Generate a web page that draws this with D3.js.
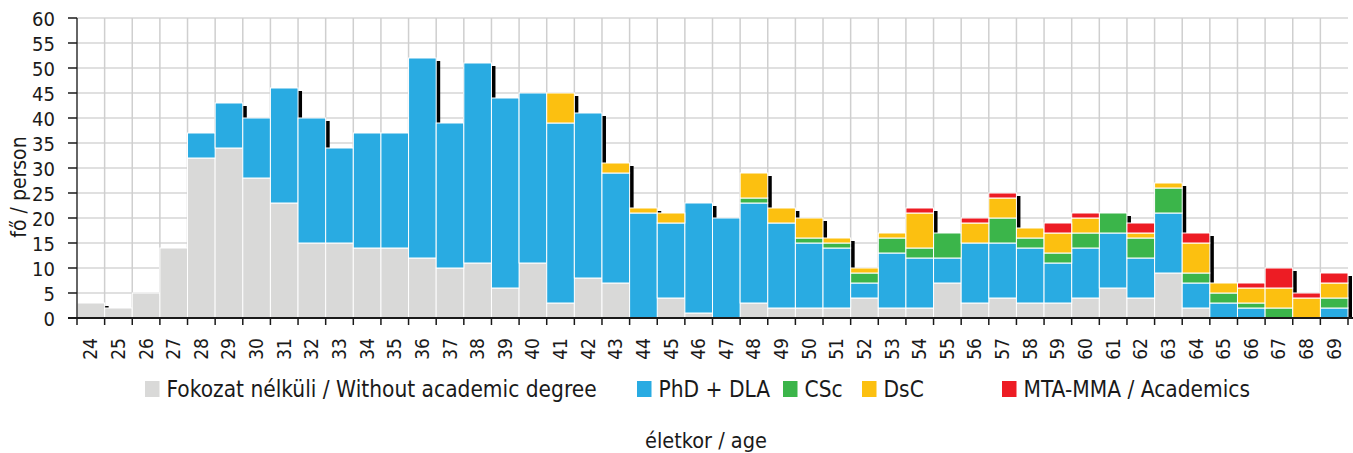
<!DOCTYPE html>
<html>
<head>
<meta charset="utf-8">
<script src="https://cdn.jsdelivr.net/npm/d3@7/dist/d3.min.js"></script>
<style>
  body { margin: 0; background: #fff; }
  text { font-family: "DejaVu Sans Condensed", "Liberation Sans Narrow", sans-serif; fill: #1a1a1a; }
</style>
</head>
<body>
<div id="chart"></div>
<script>
// ages on the x axis
const ages = [24,25,26,27,28,29,30,31,32,33,34,35,36,37,38,39,40,41,42,43,44,45,46,
  47,48,49,50,51,52,53,54,55,56,57,58,59,60,61,62,63,64,65,66,67,68,69];

// series, one value per age
const noDegree = [3,2,5,14,32,34,28,23,15,15,14,14,12,10,11,6,11,3,8,7,0,4,1,
  0,3,2,2,2,4,2,2,7,3,4,3,3,4,6,4,9,2,0,0,0,0,0];
const phdDla = [0,0,0,0,5,9,12,23,25,19,23,23,40,29,40,38,34,36,33,22,21,15,22,
  20,20,17,13,12,3,11,10,5,12,11,11,8,10,11,8,12,5,3,2,0,0,2];
const csc = [0,0,0,0,0,0,0,0,0,0,0,0,0,0,0,0,0,0,0,0,0,0,0,
  0,1,0,1,1,2,3,2,5,0,5,2,2,3,4,4,5,2,2,1,2,0,2];
const dsc = [0,0,0,0,0,0,0,0,0,0,0,0,0,0,0,0,0,6,0,2,1,2,0,
  0,5,3,4,1,1,1,7,0,4,4,2,4,3,0,1,1,6,2,3,4,4,3];
const mta = [0,0,0,0,0,0,0,0,0,0,0,0,0,0,0,0,0,0,0,0,0,0,0,
  0,0,0,0,0,0,0,1,0,1,1,0,2,1,0,2,0,2,0,1,4,1,2];

const yTicks = [0,5,10,15,20,25,30,35,40,45,50,55,60];

const seriesNames = ["Fokozat nélküli / Without academic degree", "PhD + DLA", "CSc", "DsC", "MTA-MMA / Academics"];
const colors = ["#d9d9d8", "#29abe2", "#3bb54a", "#fcc010", "#ed1c24"];

const W = 1353, H = 453;
const mLeft = 77, mRight = 1348, mTop = 18, mBottom = 318;

const rows = ages.map((a, i) => ({
  age: a, s0: noDegree[i], s1: phdDla[i], s2: csc[i], s3: dsc[i], s4: mta[i]
}));
const keys = ["s0","s1","s2","s3","s4"];
const stacked = d3.stack().keys(keys)(rows);

const x = d3.scaleBand().domain(ages).range([mLeft, mRight]).padding(0);
const y = d3.scaleLinear().domain([0, 60]).range([mBottom, mTop]);

const svg = d3.select("#chart").append("svg")
  .attr("width", W).attr("height", H);

svg.append("clipPath").attr("id", "plotclip")
  .append("rect").attr("x", mLeft).attr("y", 0).attr("width", W - mLeft).attr("height", mBottom);

// grid
const grid = svg.append("g");
grid.selectAll(".hg").data(yTicks).enter().append("line")
  .attr("x1", mLeft).attr("x2", mRight)
  .attr("y1", d => y(d)).attr("y2", d => y(d))
  .attr("stroke", "#d6d6d6").attr("stroke-width", 1.5);
grid.selectAll(".vg").data(ages.slice(1)).enter().append("line")
  .attr("x1", d => x(d)).attr("x2", d => x(d))
  .attr("y1", mTop).attr("y2", mBottom)
  .attr("stroke", "#cfcfcf").attr("stroke-width", 1.5);

// black drop shadows behind each bar
const totals = rows.map(r => r.s0 + r.s1 + r.s2 + r.s3 + r.s4);
svg.append("g").attr("clip-path", "url(#plotclip)")
  .selectAll("rect").data(ages).enter().append("rect")
  .attr("x", (d) => x(d) + 4)
  .attr("y", (d, i) => y(totals[i]) + 3)
  .attr("width", x.bandwidth())
  .attr("height", (d, i) => mBottom - y(totals[i]))
  .attr("fill", "#000");

// stacked bars
svg.append("g").selectAll("g").data(stacked).enter().append("g")
  .attr("fill", (d, i) => colors[i])
  .selectAll("rect").data(d => d.filter(p => p[1] > p[0])).enter().append("rect")
  .attr("x", d => x(d.data.age))
  .attr("y", d => y(d[1]))
  .attr("width", x.bandwidth())
  .attr("height", d => y(d[0]) - y(d[1]))
  .attr("stroke", "#fff").attr("stroke-width", 1);

// axes
svg.append("line").attr("x1", mLeft).attr("x2", mLeft).attr("y1", mTop).attr("y2", mBottom)
  .attr("stroke", "#333").attr("stroke-width", 1.5);
svg.append("line").attr("x1", mLeft - 9).attr("x2", W).attr("y1", mBottom).attr("y2", mBottom)
  .attr("stroke", "#1a1a1a").attr("stroke-width", 2);

svg.selectAll(".xt").data(ages.concat(["end"])).enter().append("line")
  .attr("x1", d => d === "end" ? mRight : x(d))
  .attr("x2", d => d === "end" ? mRight : x(d))
  .attr("y1", mBottom).attr("y2", mBottom + 7)
  .attr("stroke", "#1a1a1a").attr("stroke-width", 1.5);
svg.selectAll(".yt").data(yTicks).enter().append("line")
  .attr("x1", mLeft - 9).attr("x2", mLeft).attr("y1", d => y(d)).attr("y2", d => y(d))
  .attr("stroke", "#1a1a1a").attr("stroke-width", 1.5);

svg.selectAll(".ytl").data(yTicks).enter().append("text")
  .attr("x", 55).attr("y", d => y(d) + 7.5)
  .attr("text-anchor", "end").attr("font-size", 20)
  .text(d => d);

svg.selectAll(".xtl").data(ages).enter().append("text")
  .attr("transform", d => `translate(${x(d) + x.bandwidth() / 2 + 6.5},${mBottom + 20}) rotate(-90)`)
  .attr("text-anchor", "end").attr("font-size", 19)
  .text(d => d);

svg.append("text")
  .attr("transform", "translate(26,187) rotate(-90)")
  .attr("text-anchor", "middle").attr("font-size", 21)
  .text("fő / person");

svg.append("text")
  .attr("x", 706).attr("y", 448)
  .attr("text-anchor", "middle").attr("font-size", 21.5)
  .text("életkor / age");

// legend
const legendX = [145, 637, 783, 862, 1002];
const lg = svg.append("g").selectAll("g").data(seriesNames).enter().append("g")
  .attr("transform", (d, i) => `translate(${legendX[i]},381)`);
lg.append("rect").attr("width", 14.5).attr("height", 16).attr("fill", (d, i) => colors[i]);
lg.append("text").attr("x", 21.5).attr("y", 16).attr("font-size", 22.5).text(d => d);
</script>
</body>
</html>
